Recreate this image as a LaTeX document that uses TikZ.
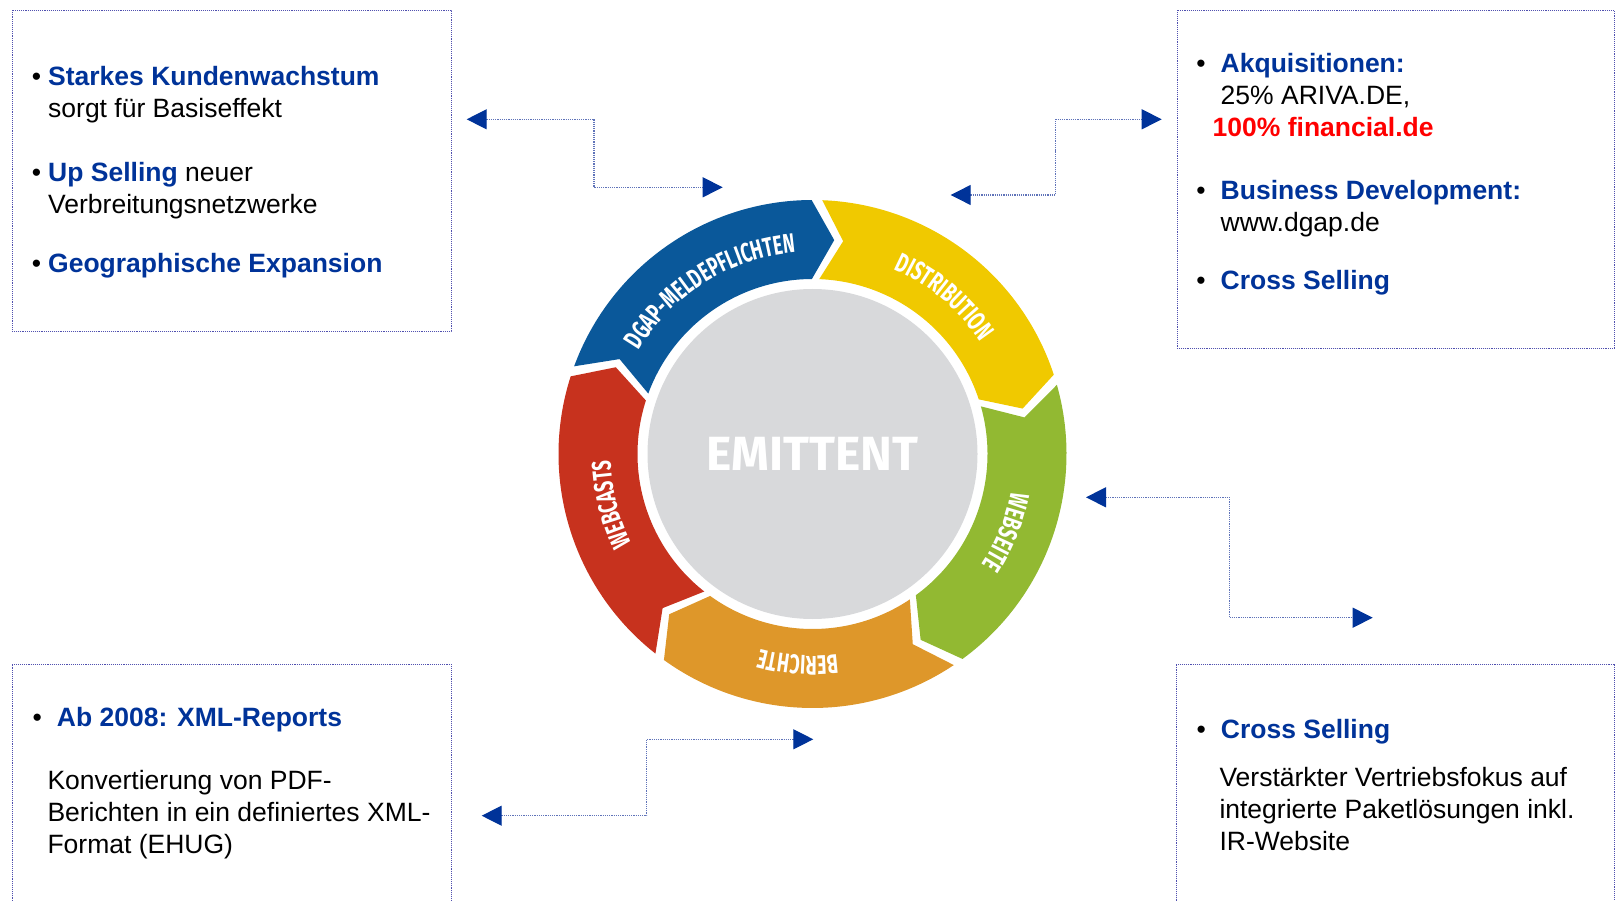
\documentclass[tikz,border=0pt]{standalone}
\usepackage{fontspec}
\setmainfont{Liberation Sans}
\newfontfamily\ringfont{Fira Sans}[FakeStretch=0.66]
\newfontfamily\kernfont{Fira Sans}
\usetikzlibrary{arrows.meta,positioning,decorations.text}
\definecolor{dgapblau}{RGB}{0,51,153}
\definecolor{punktlinie}{RGB}{95,115,185}
\definecolor{rahmen}{RGB}{80,80,175}
\definecolor{ringblau}{RGB}{10,88,154}
\definecolor{ringgelb}{RGB}{240,201,0}
\definecolor{ringgruen}{RGB}{146,185,50}
\definecolor{ringorange}{RGB}{222,151,42}
\definecolor{ringrot}{RGB}{199,50,30}
\definecolor{kern}{RGB}{216,217,219}
\newcommand{\blau}[1]{\textcolor{dgapblau}{\textbf{#1}}}
\newcommand{\pkt}[1][15pt]{\llap{•\hspace{#1}}}
\newcommand{\ringtext}{\ringfont\bfseries\fontsize{27}{27}\selectfont}
% farbiges Ringsegment: Farbe, Ende hinten, Spitze
\newcommand{\segment}[3]{\fill[#1] ({#2-1.2}:254) arc[start angle={#2-1.2},end angle={#3+1.2},radius=254] -- ({#3+1.2-6}:215) -- ({#3+1.2}:175) arc[start angle={#3+1.2},end angle={#2-1.2},radius=175] -- ({#2-1.2-6}:215) -- cycle;}
\tikzstyle{kasten}=[rectangle,draw=rahmen,densely dotted,line width=0.9,inner sep=0,outer sep=0]
\tikzstyle{punkt}=[anchor=base west,align=left,inner sep=0,font=\fontsize{26.5}{32}\selectfont]
\tikzstyle{pfeil}=[draw=punktlinie,densely dotted,line width=1.2,arrows={Triangle[length=20pt,width=20pt,color=dgapblau]-Triangle[length=20pt,width=20pt,color=dgapblau]}]
\tikzstyle{bogentext}=[decorate,decoration={text along path,text align=center,text color=white}]
\begin{document}
\begin{tikzpicture}[x=1pt,y=1pt]
\useasboundingbox (0,0) rectangle (1615,-901);
\clip (0,0) rectangle (1615,-901);
% Kaesten
\node[kasten,minimum width=439,minimum height=321] (boxTL) at (231.5,-170.5) {};
\node[kasten,minimum width=437,minimum height=338] (boxTR) at (1395.5,-179) {};
\node[kasten,minimum width=439,minimum height=400] (boxBL) at (231.5,-864) {};
\node[kasten,minimum width=438,minimum height=400] (boxBR) at (1395,-864) {};
\node[punkt] (kunden) at ([xshift=36,yshift=-108]boxTL.north west) {\pkt[7pt]\blau{Starkes Kundenwachstum}\\sorgt für Basiseffekt};
\node[punkt] (upsell) at ([xshift=36,yshift=-204]boxTL.north west) {\pkt[7pt]\blau{Up Selling} neuer\\Verbreitungsnetzwerke};
\node[punkt] (geo) at ([xshift=36,yshift=-263]boxTL.north west) {\pkt[7pt]\blau{Geographische Expansion}};
\node[punkt] (akq) at ([xshift=43.5,yshift=-126.7]boxTR.north west) {\pkt\blau{Akquisitionen:}\\25\% ARIVA.DE,\\\hspace*{-8pt}\textcolor{red}{\textbf{100\% financial.de}}};
\node[punkt] (bizdev) at ([xshift=43.5,yshift=-221.7]boxTR.north west) {\pkt\blau{Business Development:}\\www.dgap.de};
\node[punkt] (cross) at ([xshift=43.5,yshift=-280]boxTR.north west) {\pkt\blau{Cross Selling}};
\node[punkt] (xml) at ([xshift=44.7,yshift=-62.7]boxBL.north west) {\pkt\blau{Ab 2008: XML-Reports}};
\node[punkt] (konv) at ([xshift=35.3,yshift=-189.3]boxBL.north west) {Konvertierung von PDF-\\Berichten in ein definiertes XML-\\Format (EHUG)};
\node[punkt] (cross2) at ([xshift=44.7,yshift=-74.3]boxBR.north west) {\pkt\blau{Cross Selling}};
\node[punkt] (vertrieb) at ([xshift=43.3,yshift=-186]boxBR.north west) {Verstärkter Vertriebsfokus auf\\integrierte Paketlösungen inkl.\\IR-Website};
% Rad
\begin{scope}[shift={(812.5,-454)}]
\fill[kern] (0,0) circle[radius=165];
\segment{ringblau}{161}{89}
\segment{ringgelb}{89}{17}
\segment{ringgruen}{17}{-55}
\segment{ringorange}{-55}{-127}
\segment{ringrot}{-127}{-199}
\path[bogentext,decoration={text={|\ringtext|DGAP-MELDEPFLICHTEN}}] (158:202) arc[start angle=158,end angle=86,radius=202];
\path[bogentext,decoration={text={|\ringtext|DISTRIBUTION}}] (86:202) arc[start angle=86,end angle=14,radius=202];
\path[bogentext,decoration={text={|\ringtext|WEBSEITE}}] (14:202) arc[start angle=14,end angle=-58,radius=202];
\path[bogentext,decoration={text={|\ringtext|BERICHTE}}] (-58:202) arc[start angle=-58,end angle=-130,radius=202];
\path[bogentext,decoration={text={|\ringtext|WEBCASTS}}] (-130:202) arc[start angle=-130,end angle=-202,radius=202];
\node[text=white,font=\kernfont\bfseries\fontsize{48}{48}\selectfont] (emittent) at (0,0) {EMITTENT};
\end{scope}
% Pfeile
\coordinate (p1a) at (466.7,-119.3);
\coordinate (p1k) at (594,-150);
\coordinate (p1b) at (722.7,-187.3);
\draw[pfeil] (p1a) -| (p1k) |- (p1b);
\coordinate (p2a) at (950.7,-195);
\coordinate (p2k) at (1055.7,-150);
\coordinate (p2b) at (1161.7,-119.3);
\draw[pfeil] (p2a) -| (p2k) |- (p2b);
\coordinate (p3a) at (1086,-497.3);
\coordinate (p3k) at (1229.3,-550);
\coordinate (p3b) at (1372.7,-617.7);
\draw[pfeil] (p3a) -| (p3k) |- (p3b);
\coordinate (p4a) at (481.7,-815.7);
\coordinate (p4k) at (646.7,-780);
\coordinate (p4b) at (813.3,-739.3);
\draw[pfeil] (p4a) -| (p4k) |- (p4b);
\end{tikzpicture}
\end{document}
